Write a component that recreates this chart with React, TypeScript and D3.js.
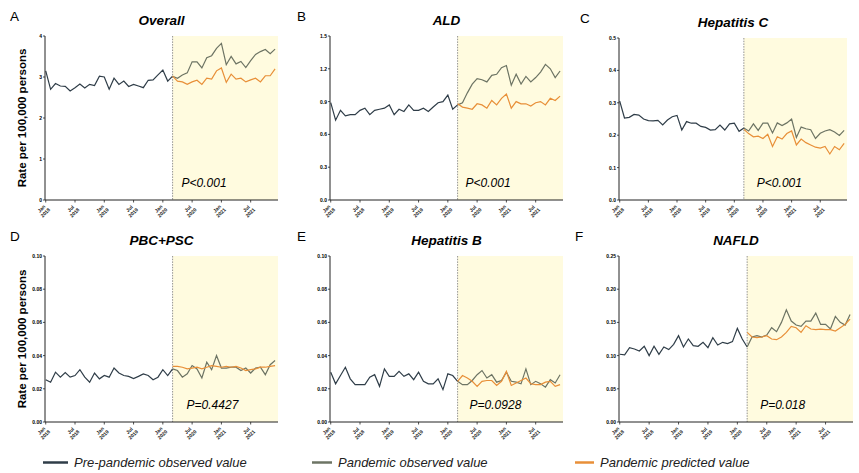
import * as d3 from "d3";

const FONT = "'Liberation Sans', Arial, Helvetica, sans-serif";
const PRE_COLOR = "#2f3d48";
const OBS_COLOR = "#6d7464";
const PRED_COLOR = "#e88f38";
const SHADE = "#fffbdf";

// months indexed from Jan 2018 (0) to Dec 2021 (47); pandemic starts Mar 2020
const PANDEMIC_START = 26;
const xTickMonths = [0, 6, 12, 18, 24, 30, 36, 42];
const xTickLabels = [
  ["Jan", "2018"], ["Jul", "2018"], ["Jan", "2019"], ["Jul", "2019"],
  ["Jan", "2020"], ["Jul", "2020"], ["Jan", "2021"], ["Jul", "2021"],
];

// Overall
const overallPre = [3.15, 2.7, 2.84, 2.78, 2.77, 2.66, 2.74, 2.83, 2.73, 2.82, 2.79, 3.02, 3.0, 2.7, 2.97, 2.82, 2.9, 2.77, 2.82, 2.78, 2.74, 2.92, 2.93, 3.05, 3.17, 2.9, 3.02];
const overallObs = [3.02, 2.97, 3.05, 3.1, 3.37, 3.37, 3.22, 3.47, 3.52, 3.7, 3.82, 3.3, 3.5, 3.32, 3.38, 3.23, 3.4, 3.55, 3.62, 3.67, 3.57, 3.68];
const overallPred = [3.02, 2.9, 2.88, 2.82, 2.88, 2.92, 2.82, 2.97, 2.95, 3.15, 3.22, 2.87, 3.07, 2.95, 2.97, 2.88, 2.93, 2.97, 2.88, 3.03, 3.03, 3.2];
const overallTicks = [0, 1, 2, 3, 4];

// ALD
const aldPre = [0.89, 0.73, 0.82, 0.77, 0.78, 0.78, 0.82, 0.84, 0.78, 0.82, 0.83, 0.84, 0.87, 0.78, 0.83, 0.81, 0.87, 0.82, 0.82, 0.84, 0.81, 0.85, 0.89, 0.9, 0.96, 0.83, 0.87];
const aldObs = [0.87, 0.89, 0.98, 1.06, 1.11, 1.1, 1.08, 1.14, 1.15, 1.21, 1.23, 1.05, 1.15, 1.06, 1.13, 1.08, 1.12, 1.17, 1.24, 1.2, 1.12, 1.18];
const aldPred = [0.88, 0.85, 0.84, 0.83, 0.88, 0.87, 0.84, 0.91, 0.87, 0.93, 0.97, 0.84, 0.9, 0.88, 0.88, 0.86, 0.89, 0.9, 0.87, 0.93, 0.91, 0.95];
const aldTicks = [0, 0.3, 0.6, 0.9, 1.2, 1.5];

// Hepatitis C
const hcvPre = [0.305, 0.253, 0.255, 0.264, 0.262, 0.25, 0.245, 0.244, 0.246, 0.232, 0.247, 0.257, 0.261, 0.216, 0.242, 0.237, 0.237, 0.227, 0.224, 0.216, 0.217, 0.231, 0.216, 0.235, 0.237, 0.212, 0.222];
const hcvObs = [0.222, 0.213, 0.235, 0.215, 0.237, 0.237, 0.207, 0.238, 0.23, 0.238, 0.25, 0.193, 0.225, 0.22, 0.217, 0.19, 0.206, 0.213, 0.217, 0.21, 0.199, 0.215];
const hcvPred = [0.218, 0.205, 0.195, 0.197, 0.19, 0.203, 0.165, 0.195, 0.188, 0.205, 0.213, 0.17, 0.188, 0.177, 0.17, 0.163, 0.16, 0.165, 0.142, 0.165, 0.155, 0.175];
const hcvTicks = [0, 0.1, 0.2, 0.3, 0.4, 0.5];

// PBC+PSC
const pbcPre = [0.0255, 0.024, 0.03, 0.027, 0.0298, 0.027, 0.028, 0.0315, 0.027, 0.024, 0.0295, 0.026, 0.028, 0.027, 0.0325, 0.0295, 0.028, 0.0275, 0.0262, 0.0275, 0.029, 0.028, 0.0255, 0.027, 0.0315, 0.028, 0.032];
const pbcObs = [0.032, 0.031, 0.027, 0.029, 0.034, 0.032, 0.0265, 0.036, 0.0315, 0.04, 0.0325, 0.0325, 0.033, 0.033, 0.031, 0.0325, 0.0295, 0.0325, 0.033, 0.0285, 0.0345, 0.037];
const pbcPred = [0.0335, 0.0335, 0.033, 0.032, 0.0325, 0.033, 0.032, 0.033, 0.034, 0.0335, 0.033, 0.0335, 0.033, 0.0335, 0.0325, 0.031, 0.0315, 0.032, 0.033, 0.033, 0.0335, 0.034];
const pbcTicks = [0, 0.02, 0.04, 0.06, 0.08, 0.1];

// Hepatitis B
const hbvPre = [0.03, 0.023, 0.028, 0.033, 0.026, 0.0225, 0.0225, 0.0225, 0.027, 0.0285, 0.0215, 0.032, 0.0275, 0.0275, 0.0305, 0.0275, 0.029, 0.0255, 0.03, 0.0245, 0.023, 0.023, 0.026, 0.0195, 0.029, 0.028, 0.0245];
const hbvObs = [0.0245, 0.0225, 0.0225, 0.025, 0.0285, 0.031, 0.0265, 0.0285, 0.024, 0.025, 0.03, 0.0245, 0.024, 0.023, 0.032, 0.0225, 0.0245, 0.023, 0.021, 0.0255, 0.0235, 0.0285];
const hbvPred = [0.0245, 0.028, 0.0265, 0.0245, 0.0215, 0.0245, 0.025, 0.025, 0.022, 0.0245, 0.0305, 0.022, 0.0235, 0.025, 0.0265, 0.023, 0.0225, 0.0225, 0.024, 0.0245, 0.0215, 0.0225];
const hbvTicks = [0, 0.02, 0.04, 0.06, 0.08, 0.1];

// NAFLD
const nafldPre = [0.102, 0.101, 0.112, 0.11, 0.107, 0.114, 0.1, 0.114, 0.102, 0.113, 0.109, 0.117, 0.13, 0.113, 0.125, 0.115, 0.114, 0.12, 0.112, 0.127, 0.116, 0.12, 0.118, 0.121, 0.141, 0.125, 0.113];
const nafldObs = [0.113, 0.128, 0.13, 0.128, 0.131, 0.142, 0.136, 0.15, 0.169, 0.152, 0.146, 0.144, 0.152, 0.152, 0.164, 0.147, 0.147, 0.14, 0.159, 0.15, 0.146, 0.162];
const nafldPred = [0.135, 0.128, 0.127, 0.128, 0.13, 0.125, 0.124, 0.128, 0.135, 0.144, 0.142, 0.135, 0.145, 0.14, 0.139, 0.14, 0.139, 0.139, 0.137, 0.142, 0.147, 0.155];
const nafldTicks = [0, 0.05, 0.1, 0.15, 0.2, 0.25];

const legendLabels = ["Pre-pandemic observed value", "Pandemic observed value", "Pandemic predicted value"];

type PanelProps = {
  letter: string;
  title: string;
  pText: string;
  pre: number[];
  obs: number[];
  pred: number[];
  ticks: number[];
  decimals: number;
  left: number;
  right: number;
  top: number;
  bottom: number;
  letterX: number;
  pDx: number;
  yTitle?: boolean;
};

const Panel = (p: PanelProps) => {
  const xScale = d3.scaleLinear().domain([-0.15, 47.6]).range([p.left, p.right]);
  const yMax = p.ticks[p.ticks.length - 1];
  const yScale = d3.scaleLinear().domain([0, yMax]).range([p.bottom, p.top]);

  const lineFrom = (offset: number) =>
    d3
      .line<number>()
      .x((_, i) => xScale(i + offset))
      .y((d) => yScale(d));

  const xCut = xScale(PANDEMIC_START);
  const fmt = d3.format(`.${p.decimals}f`);

  return (
    <g>
      <text x={p.letterX} y={p.top - 15} fontSize={13.5} fontFamily={FONT}>
        {p.letter}
      </text>
      <text
        x={(p.left + p.right) / 2}
        y={p.top - 11}
        textAnchor="middle"
        fontSize={13.5}
        fontWeight="bold"
        fontStyle="italic"
        fontFamily={FONT}
      >
        {p.title}
      </text>
      {p.yTitle && (
        <text
          transform={`translate(${p.left - 19}, ${(p.top + p.bottom) / 2}) rotate(-90)`}
          textAnchor="middle"
          fontSize={11.5}
          fontWeight="bold"
          fontFamily={FONT}
        >
          Rate per 100,000 persons
        </text>
      )}
      <rect x={xCut} y={p.top} width={p.right - xCut} height={p.bottom - p.top} fill={SHADE} />
      <line x1={xCut} x2={xCut} y1={p.top} y2={p.bottom} stroke="#777" strokeWidth={0.8} strokeDasharray="1.5,1.2" />

      <path d={lineFrom(0)(p.pre) ?? ""} fill="none" stroke={PRE_COLOR} strokeWidth={1.2} />
      <path d={lineFrom(PANDEMIC_START)(p.obs) ?? ""} fill="none" stroke={OBS_COLOR} strokeWidth={1.2} />
      <path d={lineFrom(PANDEMIC_START)(p.pred) ?? ""} fill="none" stroke={PRED_COLOR} strokeWidth={1.2} />

      {/* axes */}
      <line x1={p.left} x2={p.left} y1={p.top} y2={p.bottom} stroke="#222" strokeWidth={1} />
      <line x1={p.left} x2={p.right} y1={p.bottom} y2={p.bottom} stroke="#222" strokeWidth={1} />
      {p.ticks.map((t, i) => (
        <g key={i}>
          <line x1={p.left - 2} x2={p.left} y1={yScale(t)} y2={yScale(t)} stroke="#222" strokeWidth={0.8} />
          <text
            x={p.left - 3}
            y={yScale(t)}
            textAnchor="end"
            dominantBaseline="central"
            fontSize={5}
            fontWeight="bold"
            fontFamily={FONT}
          >
            {p.decimals === 0 ? t : fmt(t)}
          </text>
        </g>
      ))}
      {xTickMonths.map((m, i) => (
        <g key={i}>
          <line x1={xScale(m)} x2={xScale(m)} y1={p.bottom} y2={p.bottom + 2.5} stroke="#222" strokeWidth={0.8} />
          <g transform={`translate(${xScale(m) - 3}, ${p.bottom + 10}) rotate(-45)`}>
            <text textAnchor="middle" fontSize={5} fontWeight="bold" fontFamily={FONT} fill="#222">
              <tspan x={0} y={0}>{xTickLabels[i][0]}</tspan>
              <tspan x={0} y={5.5}>{xTickLabels[i][1]}</tspan>
            </text>
          </g>
        </g>
      ))}
      <text x={xCut + p.pDx} y={p.bottom - 13} fontSize={12} fontStyle="italic" fontFamily={FONT}>
        {p.pText}
      </text>
    </g>
  );
};

export default function App() {
  const top1 = 36, bot1 = 200, top2 = 256, bot2 = 422;
  return (
    <svg width={859} height={473} style={{ position: "absolute", left: 0, top: 0, background: "#fff" }}>
      <Panel letter="A" title="Overall" pText="P<0.001" pre={overallPre} obs={overallObs} pred={overallPred}
        ticks={overallTicks} decimals={0} left={45} right={278} top={top1} bottom={bot1} letterX={10} pDx={9} yTitle />
      <Panel letter="B" title="ALD" pText="P<0.001" pre={aldPre} obs={aldObs} pred={aldPred}
        ticks={aldTicks} decimals={1} left={330} right={563} top={top1} bottom={bot1} letterX={297} pDx={8} />
      <Panel letter="C" title="Hepatitis C" pText="P<0.001" pre={hcvPre} obs={hcvObs} pred={hcvPred}
        ticks={hcvTicks} decimals={1} left={619} right={847} top={38} bottom={bot1} letterX={580} pDx={13} />
      <Panel letter="D" title="PBC+PSC" pText="P=0.4427" pre={pbcPre} obs={pbcObs} pred={pbcPred}
        ticks={pbcTicks} decimals={2} left={45} right={278} top={top2} bottom={bot2} letterX={10} pDx={14} yTitle />
      <Panel letter="E" title="Hepatitis B" pText="P=0.0928" pre={hbvPre} obs={hbvObs} pred={hbvPred}
        ticks={hbvTicks} decimals={2} left={330} right={563} top={top2} bottom={bot2} letterX={297} pDx={12} />
      <Panel letter="F" title="NAFLD" pText="P=0.018" pre={nafldPre} obs={nafldObs} pred={nafldPred}
        ticks={nafldTicks} decimals={2} left={619} right={853} top={top2} bottom={bot2} letterX={575} pDx={13} />

      {/* legend */}
      {[
        { x: 43, w: 25, color: PRE_COLOR },
        { x: 312, w: 20, color: OBS_COLOR },
        { x: 575, w: 19, color: PRED_COLOR },
      ].map((l, i) => (
        <g key={i}>
          <line x1={l.x} x2={l.x + l.w} y1={462.5} y2={462.5} stroke={l.color} strokeWidth={2.5} />
          <text x={l.x + l.w + 6} y={467} fontSize={13} fontStyle="italic" fontFamily={FONT} fill="#222">
            {legendLabels[i]}
          </text>
        </g>
      ))}
    </svg>
  );
}
